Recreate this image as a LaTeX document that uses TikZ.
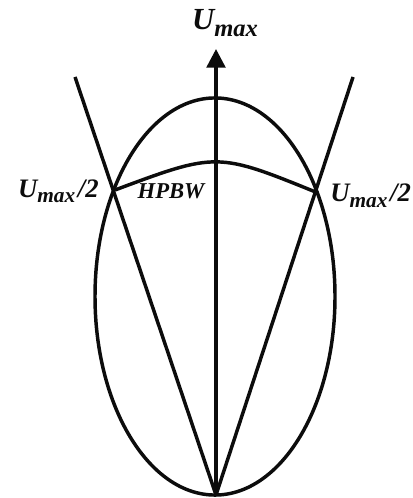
\documentclass[tikz,border=0pt]{standalone}
\usepackage{fontspec}
\setmainfont{Liberation Serif}
\usepackage{graphicx}
\usetikzlibrary{arrows.meta,positioning}
\definecolor{inkblack}{RGB}{12,12,12}
\newcommand{\umaxtxt}{U\raisebox{-0.22em}{\scalebox{0.8}{max}}}
\tikzset{
  curve/.style={line width=2.6pt,draw=inkblack},
  axisarr/.style={-{Triangle[length=14pt,width=14pt]},line width=2.6pt,draw=inkblack},
  lbl/.style={inner sep=1pt,text=inkblack,font=\fontsize{#1}{#1}\selectfont\bfseries\itshape},
  lbl/.default=20,
}
\begin{document}
\begin{tikzpicture}[x=0.75pt,y=-0.75pt]
  \useasboundingbox (0,0) rectangle (412,498);
  % points of the sketch
  \coordinate (O) at (216,495);
  \coordinate (C) at (215,296.5);
  \coordinate (T) at (216,49);
  \coordinate (L) at (115,190);
  \coordinate (R) at (318,193);
  \coordinate (Lend) at (75,77);
  \coordinate (Rend) at (353,77);
  \coordinate (apex) at (217,152);
  % main lobe and the two rays
  \draw[curve] (C) ellipse [x radius=90pt,y radius=148.9pt];
  \draw[curve] (O) -- (Lend);
  \draw[curve] (O) -- (Rend);
  \draw[curve] (L) .. controls (apex) .. (R);
  \draw[axisarr] (O) -- (T);
  % labels
  \node[lbl=23] (umax) at (225,23) {\umaxtxt};
  \node[lbl,left=11pt of L,yshift=-1pt] (uleft) {\umaxtxt\kern0.1em/2};
  \node[lbl,right=8pt of R,yshift=-2pt] (uright) {\umaxtxt\kern0.1em/2};
  \node[lbl=17] (hpbw) at (171,191) {HPBW};
\end{tikzpicture}
\end{document}
